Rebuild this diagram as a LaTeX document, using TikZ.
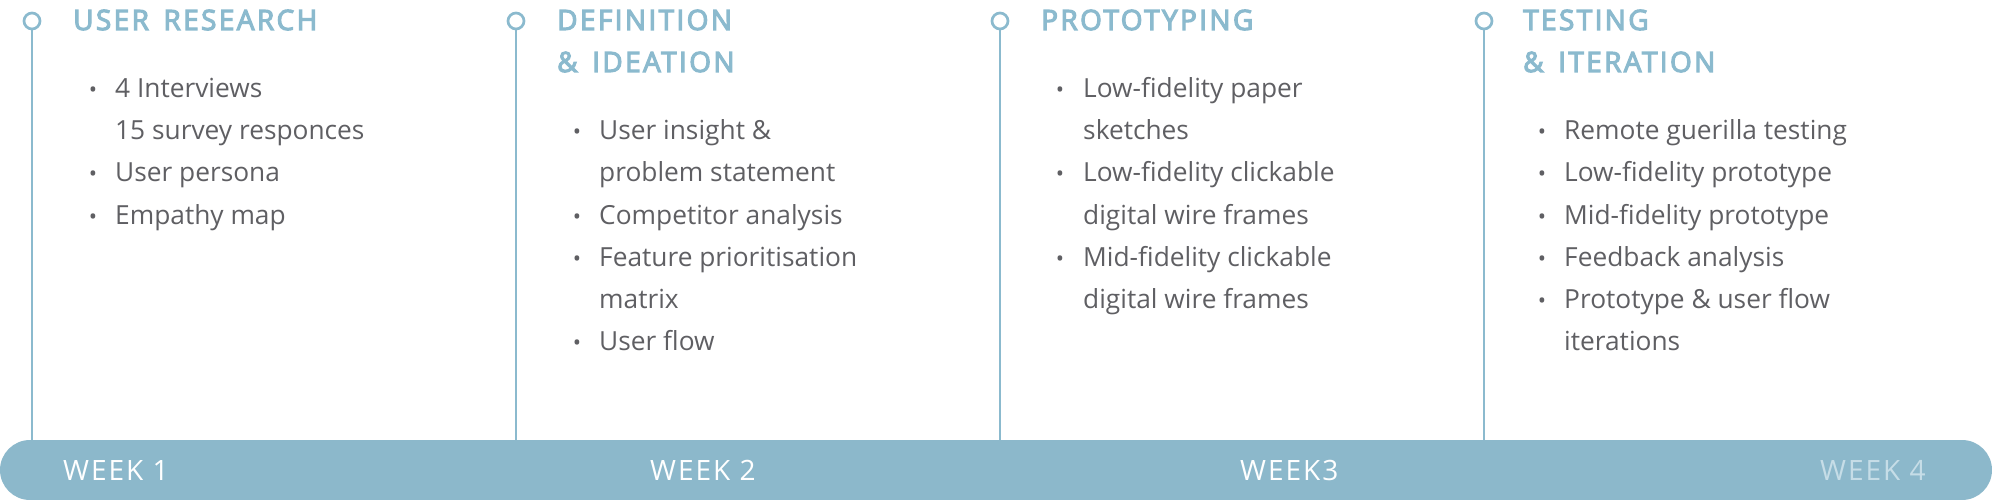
\documentclass[tikz,border=0pt]{standalone}
\usepackage{fontspec}
\usetikzlibrary{shapes.misc}
\setmainfont{Open Sans}
\newfontfamily\headfont[FakeBold=4,LetterSpace=8.5,WordSpace=1.5]{Open Sans}
\newfontfamily\weekfont[LetterSpace=7]{Open Sans}
\definecolor{headblue}{HTML}{8BBACE}
\definecolor{barblue}{HTML}{8CB8CB}
\definecolor{bodygray}{HTML}{5F5F63}
\definecolor{weekfade}{HTML}{C6DDE7}
\begin{document}
\begin{tikzpicture}[x=1pt,y=-1pt,
  head/.style={anchor=base west, inner sep=0pt, text=headblue, font=\headfont\fontsize{28}{28}\selectfont},
  body/.style={anchor=base west, inner sep=0pt, text=bodygray, font=\fontsize{26.3}{26.3}\selectfont},
  bul/.style={anchor=base, inner sep=0pt, text=bodygray, font=\fontsize{22}{22}\selectfont},
  week/.style={anchor=base west, inner sep=0pt, text=white, font=\weekfont\fontsize{28}{28}\selectfont},
  ring/.style={circle, draw=headblue, line width=2.7pt, minimum size=16pt, inner sep=0pt, fill=white},
  stem/.style={draw=headblue, line width=2.7pt},
  bar/.style={rounded rectangle, fill=barblue, minimum width=1992pt, minimum height=60pt, inner sep=0pt}]
\useasboundingbox (0,0) rectangle (1992,500);

% timeline bar
\node[bar] (bar) at (996,470) {};

% rings and stems
\node[ring] (r1) at (32,21) {};
\node[ring] (r2) at (516,21) {};
\node[ring] (r3) at (1000,21) {};
\node[ring] (r4) at (1484,21) {};
\foreach \r in {r1,r2,r3,r4}{
  \draw[stem] (\r.south) -- (\r.south |- bar.north);
}

% headings
\node[head] (h1) at (73,30) {USER RESEARCH};
\node[head] (h2a) at (557,30) {DEFINITION};
\node[head] (h2b) at (557,72) {\& IDEATION};
\node[head] (h3) at (1041,30) {PROTOTYPING};
\node[head] (h4a) at (1523,30) {TESTING};
\node[head] (h4b) at (1523,72) {\& ITERATION};

% column 1
\node[bul] (b11) at (93,98) {•};
\node[body] (t11) at (115,98) {4 Interviews};
\node[body] (t12) at (115,140) {15 survey responces};
\node[bul] (b13) at (93,182) {•};
\node[body] (t13) at (115,182) {User persona};
\node[bul] (b14) at (93,224) {•};
\node[body] (t14) at (115,224) {Empathy map};

% column 2
\node[bul] (b21) at (577,140) {•};
\node[body] (t21) at (599,140) {User insight \&};
\node[body] (t22) at (599,182) {problem statement};
\node[bul] (b23) at (577,224) {•};
\node[body] (t23) at (599,224) {Competitor analysis};
\node[bul] (b24) at (577,266) {•};
\node[body] (t24) at (599,266) {Feature prioritisation};
\node[body] (t25) at (599,308) {matrix};
\node[bul] (b26) at (577,350) {•};
\node[body] (t26) at (599,350) {User flow};

% column 3
\node[bul] (b31) at (1060,98) {•};
\node[body] (t31) at (1083,98) {Low-fidelity paper};
\node[body] (t32) at (1083,140) {sketches};
\node[bul] (b33) at (1060,182) {•};
\node[body] (t33) at (1083,182) {Low-fidelity clickable};
\node[body] (t34) at (1083,224) {digital wire frames};
\node[bul] (b35) at (1060,266) {•};
\node[body] (t35) at (1083,266) {Mid-fidelity clickable};
\node[body] (t36) at (1083,308) {digital wire frames};

% column 4
\node[bul] (b41) at (1542,140) {•};
\node[body] (t41) at (1564,140) {Remote guerilla testing};
\node[bul] (b42) at (1542,182) {•};
\node[body] (t42) at (1564,182) {Low-fidelity prototype};
\node[bul] (b43) at (1542,224) {•};
\node[body] (t43) at (1564,224) {Mid-fidelity prototype};
\node[bul] (b44) at (1542,266) {•};
\node[body] (t44) at (1564,266) {Feedback analysis};
\node[bul] (b45) at (1542,308) {•};
\node[body] (t45) at (1564,308) {Prototype \& user flow};
\node[body] (t46) at (1564,350) {iterations};

% week labels
\node[week] (w1) at (63,480) {WEEK 1};
\node[week] (w2) at (650,480) {WEEK 2};
\node[week] (w3) at (1240,480) {WEEK3};
\node[week, text=weekfade] (w4) at (1820,480) {WEEK 4};
\end{tikzpicture}
\end{document}
